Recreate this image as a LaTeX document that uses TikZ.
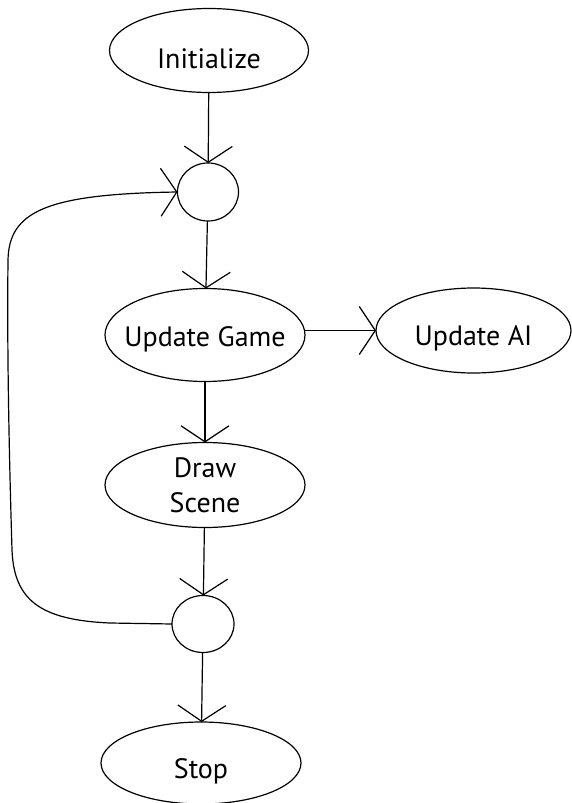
\documentclass[tikz,border=0pt]{standalone}
\usepackage{fontspec}
\setmainfont{PT Sans}
\usetikzlibrary{shapes.geometric,arrows.meta}
\begin{document}
\begin{tikzpicture}[x=1pt,y=1pt,
  lw/.style={line width=1.2pt},
  stage/.style={ellipse,draw,lw,inner sep=0pt,outer sep=0pt},
  txt/.style 2 args={label={[font=\fontsize{28}{35}\selectfont,align=center,yshift=#2]center:#1}},
  junction/.style={ellipse,draw,lw,inner sep=0pt,outer sep=0pt},
  arr/.style={lw,-{Straight Barb[length=16pt,width=48pt]}}]
\useasboundingbox (0,0) rectangle (571,-803);
\node[stage,minimum width=199pt,minimum height=84pt,txt={Initialize}{-8pt}] (init) at (209,-50.5) {};
\node[junction,minimum width=61pt,minimum height=58pt] (c1) at (208,-192) {};
\node[stage,minimum width=200pt,minimum height=93pt,txt={Update Game}{-4pt}] (ug) at (205,-335) {};
\node[stage,minimum width=195pt,minimum height=85pt,txt={Update AI}{-8pt}] (ai) at (473.5,-330.5) {};
\node[stage,minimum width=200pt,minimum height=85pt,txt={Draw\\Scene}{0pt}] (ds) at (205,-485) {};
\node[junction,minimum width=62pt,minimum height=57pt] (c2) at (203,-624) {};
\node[stage,minimum width=200pt,minimum height=82pt,txt={Stop}{-8pt}] (stop) at (201,-763) {};
\draw[arr] (init) -- (c1);
\draw[arr] (c1) -- (ug);
\draw[arr] (ug.east |- ai) -- (ai.west);
\draw[arr] (ug) -- (ds);
\draw[arr] (ds) -- (c2);
\draw[arr] (c2) -- (stop);
\draw[arr] (c2.west) -- (110,-623) .. controls (40,-620) and (14,-600) .. (12,-550)
  .. controls (9,-450) and (7,-350) .. (8,-260)
  .. controls (9,-212) and (45,-194) .. (c1.west);
\end{tikzpicture}
\end{document}
